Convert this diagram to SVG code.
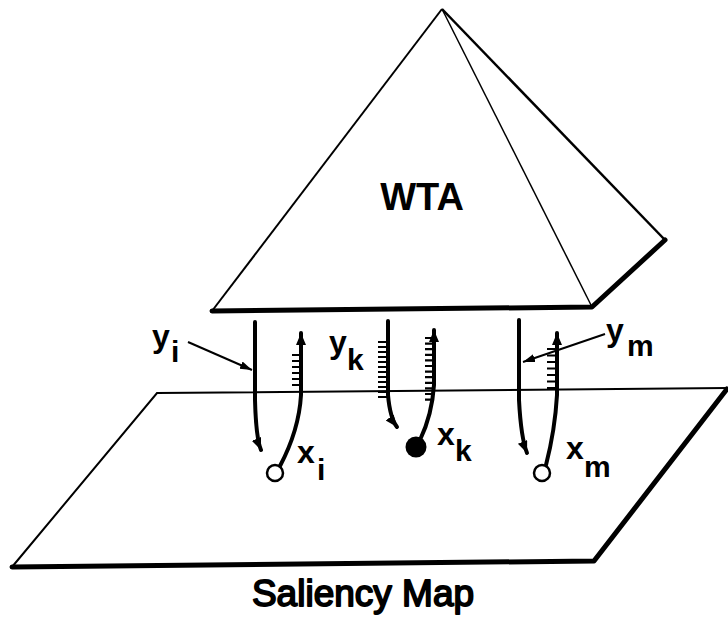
<svg xmlns="http://www.w3.org/2000/svg" width="728" height="617" viewBox="0 0 728 617">
<style>
.w{fill:none;stroke:#000;stroke-width:4;stroke-linecap:round}
.t{fill:none;stroke:#000;stroke-width:2.2}
.lbl{font-family:"Liberation Sans",Arial,sans-serif;font-weight:bold;fill:#000}
.thin{fill:none;stroke:#000;stroke-width:2}
.thick{fill:none;stroke:#000;stroke-width:5;stroke-linecap:round;stroke-linejoin:round}
</style>
<defs>
<marker id="ah" markerUnits="userSpaceOnUse" markerWidth="14" markerHeight="12" refX="12" refY="5" orient="auto">
<path d="M0,0 L12,5 L0,10 Z" fill="#000"/>
</marker>
<marker id="ap" markerUnits="userSpaceOnUse" markerWidth="14" markerHeight="10" refX="12" refY="4" orient="auto">
<path d="M0,0 L12,4 L0,8 Z" fill="#000"/>
</marker>
</defs>
<rect width="728" height="617" fill="#fff"/>

<g id="saliency-map">
<polygon points="12,567 157,393 727,388 594,561" fill="#fff" stroke="none"/>
<path class="thin" d="M12,567 L157,393 L727,388"/>
<path class="thick" d="M727,389 L594,561 L12,567"/>
<text x="363" y="606" font-size="37" font-family="'Liberation Sans',Arial,sans-serif" font-weight="normal" fill="#000" stroke="#000" stroke-width="1.8" stroke-linejoin="round" text-anchor="middle">Saliency Map</text>
</g>

<g id="wta">
<polygon points="212,311 442,9 592,307" fill="#fff" stroke="none"/>
<polygon points="442,9 665,240 592,307" fill="#fff" stroke="none"/>
<path class="thin" d="M212,311 L442,9"/>
<path fill="none" stroke="#000" stroke-width="2.5" d="M442,9 L665,240"/>
<path fill="none" stroke="#000" stroke-width="1.5" d="M442,9 L592,307"/>
<path class="thick" d="M212,311 L592,307 L665,240"/>
<text class="lbl" x="422" y="210" font-size="38" text-anchor="middle">WTA</text>
</g>

<g id="connectors">
<!-- i -->
<path class="w" d="M255,322 L255,400 Q256,438 261,450" marker-end="url(#ah)"/>
<path class="w" d="M280,466 Q299,430 301,395 L301,333" marker-end="url(#ah)"/>
<path class="t" d="M292,355H301M292,361H301M292,367H301M292,373H301M292,379H301M292,385H301"/>
<!-- k -->
<path class="w" d="M388,321 L388,395 Q390,418 397,427" marker-end="url(#ah)"/>
<path class="w" d="M420,440 Q432,415 434,385 L434,330" marker-end="url(#ah)"/>
<path class="t" d="M378,342H388M378,347H388M378,352H388M378,357H388M378,362H388M378,367H388M378,372H388M378,377H388M378,382H388M378,387H388M378,392H388M378,397H388"/>
<path class="t" d="M425,338H434M425,343.6H434M425,349.2H434M425,354.8H434M425,360.4H434M425,366H434M425,371.6H434M425,377.2H434M425,382.8H434M425,388.4H434M425,394H434M425,399.6H434"/>
<!-- m -->
<path class="w" d="M519,320 L519,400 Q521,438 527,453" marker-end="url(#ah)"/>
<path class="w" d="M546,465 Q555,430 557,395 L557,333" marker-end="url(#ah)"/>
<path class="t" d="M547,349H557M547,355.5H557M547,362H557M547,368.5H557M547,375H557M547,381.5H557M547,388H557"/>
<!-- pointers -->
<path fill="none" stroke="#000" stroke-width="2" d="M188,342 L252,370" marker-end="url(#ap)"/>
<path fill="none" stroke="#000" stroke-width="2" d="M605,334 L523,362" marker-end="url(#ap)"/>
</g>

<g id="node-i">
<circle cx="275" cy="473" r="8" fill="#fff" stroke="#000" stroke-width="2.5"/>
<text class="lbl" x="152" y="347" font-size="32">y</text>
<text class="lbl" x="171" y="362" font-size="30">i</text>
<text class="lbl" x="297" y="463" font-size="32">x</text>
<text class="lbl" x="317" y="480" font-size="30">i</text>
</g>

<g id="node-k">
<circle cx="416" cy="447" r="10.5" fill="#000"/>
<text class="lbl" x="329" y="353" font-size="32">y</text>
<text class="lbl" x="347" y="370" font-size="30">k</text>
<text class="lbl" x="437" y="445" font-size="32">x</text>
<text class="lbl" x="455" y="461" font-size="30">k</text>
</g>

<g id="node-m">
<circle cx="542" cy="473" r="8" fill="#fff" stroke="#000" stroke-width="2.5"/>
<text class="lbl" x="606" y="341" font-size="32">y</text>
<text class="lbl" x="627" y="356" font-size="30">m</text>
<text class="lbl" x="566" y="459" font-size="32">x</text>
<text class="lbl" x="584" y="477" font-size="30">m</text>
</g>
</svg>
